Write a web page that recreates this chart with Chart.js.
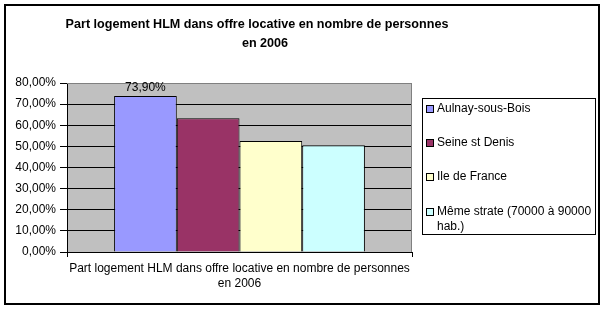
<!DOCTYPE html>
<html>
<head>
<meta charset="utf-8">
<script src="https://cdn.jsdelivr.net/npm/chart.js@4/dist/chart.umd.min.js"></script>
<style>
html,body{margin:0;padding:0;background:#fff;}
canvas{display:block;}
</style>
</head>
<body>
<canvas id="c" width="605" height="310"></canvas>
<script>
const titleLines = ['Part logement HLM dans offre locative en nombre de personnes', 'en 2006'];
const categories = [['Part logement HLM dans offre locative en nombre de personnes', 'en 2006']];
const seriesNames = ['Aulnay-sous-Bois', 'Seine st Denis', 'Ile de France', 'Même strate (70000 à 90000 hab.)'];
const seriesValues = [73.9, 63.3, 52.5, 50.5];
const seriesColors = ['#9999FF', '#993366', '#FFFFCC', '#CCFFFF'];
const showValueLabel = [true, false, false, false];
const yTicksMin = 0, yTicksMax = 80, yTickStep = 10;

const FONT = "'Liberation Sans', Arial, sans-serif";
Chart.defaults.font.family = FONT;
Chart.defaults.font.size = 12;
Chart.defaults.color = '#000';

function fmt(v){ return v.toFixed(2).replace('.', ',') + '%'; }

const decor = {
  id: 'decor',
  beforeDraw(chart){
    const ctx = chart.ctx, a = chart.chartArea;
    ctx.save();
    ctx.fillStyle = '#fff';
    ctx.fillRect(0,0,chart.width,chart.height);
    ctx.fillStyle = '#C0C0C0';
    ctx.fillRect(a.left, a.top, a.right-a.left, a.bottom-a.top);
    ctx.restore();
  },
  afterDatasetsDraw(chart){
    const ctx = chart.ctx, a = chart.chartArea;
    ctx.save();
    ctx.strokeStyle = '#808080';
    ctx.lineWidth = 1;
    ctx.beginPath();
    ctx.moveTo(a.left, a.top+0.5);
    ctx.lineTo(a.right-0.5, a.top+0.5);
    ctx.lineTo(a.right-0.5, a.bottom);
    ctx.stroke();
    ctx.fillStyle = '#000';
    ctx.font = '12px ' + FONT;
    ctx.textAlign = 'center';
    ctx.textBaseline = 'bottom';
    chart.data.datasets.forEach((ds, i) => {
      if (!showValueLabel[i]) return;
      const el = chart.getDatasetMeta(i).data[0];
      ctx.fillText(fmt(ds.data[0]), el.x, el.y - 2);
    });
    ctx.restore();
  },
  afterDraw(chart){
    const ctx = chart.ctx;
    ctx.save();
    ctx.fillStyle = '#000';
    ctx.font = 'bold 12.6px ' + FONT;
    ctx.textAlign = 'center';
    ctx.textBaseline = 'middle';
    ctx.fillText(titleLines[0], 257, 25);
    ctx.fillText(titleLines[1], 265, 44);
    const lx = 422, ly = 98, lw = 173, lh = 136;
    ctx.fillStyle = '#fff';
    ctx.fillRect(lx, ly, lw, lh);
    ctx.strokeStyle = '#000';
    ctx.lineWidth = 1;
    ctx.strokeRect(lx+0.5, ly+0.5, lw, lh);
    ctx.font = '12px ' + FONT;
    ctx.textAlign = 'left';
    const itemY = [109, 143, 177, 212];
    const maxW = lx + lw - 437;
    chart.data.datasets.forEach((ds, i) => {
      const y = itemY[i];
      ctx.fillStyle = ds.backgroundColor;
      ctx.fillRect(427, y-3, 6, 6);
      ctx.strokeStyle = '#000';
      ctx.strokeRect(426.5, y-3.5, 7, 7);
      const words = ds.label.split(' ');
      const lines = [];
      let cur = '';
      words.forEach(w => {
        const t = cur ? cur + ' ' + w : w;
        if (ctx.measureText(t).width > maxW && cur) { lines.push(cur); cur = w; }
        else cur = t;
      });
      lines.push(cur);
      ctx.fillStyle = '#000';
      lines.forEach((ln, k) => ctx.fillText(ln, 437, y + k*15));
    });
    ctx.lineWidth = 2;
    ctx.strokeStyle = '#000';
    ctx.strokeRect(5, 5, 594, 299);
    ctx.restore();
  }
};

new Chart(document.getElementById('c'), {
  type: 'bar',
  data: {
    labels: categories,
    datasets: seriesNames.map((n, i) => ({
      label: n,
      data: [seriesValues[i]],
      backgroundColor: seriesColors[i],
      borderColor: '#000',
      borderWidth: 1,
      borderSkipped: 'bottom',
      categoryPercentage: 0.727,
      barPercentage: 1
    }))
  },
  options: {
    responsive: false,
    animation: false,
    events: [],
    layout: { padding: { top: 83, right: 193, left: 0, bottom: 0 } },
    plugins: { legend: { display: false }, title: { display: false }, tooltip: { enabled: false } },
    scales: {
      x: {
        offset: true,
        afterFit(s){ s.height = 58; },
        grid: { offset: true, drawOnChartArea: false, drawTicks: true, tickLength: 5, color: '#000', tickColor: '#000' },
        border: { color: '#000', width: 1 },
        ticks: { color: '#000', padding: 4, font: { size: 12, lineHeight: 1.25 }, maxRotation: 0 }
      },
      y: {
        min: yTicksMin, max: yTicksMax,
        afterFit(s){ s.width = 67; },
        grid: {
          color: ctx => (ctx.tick && ctx.tick.value === yTicksMax) ? '#808080' : '#000',
          tickColor: '#000', tickLength: 7, lineWidth: 1
        },
        border: { color: '#000', width: 1 },
        ticks: { stepSize: yTickStep, color: '#000', padding: 4, callback: v => fmt(v), font: { size: 12 } }
      }
    }
  },
  plugins: [decor]
});
</script>
</body>
</html>
